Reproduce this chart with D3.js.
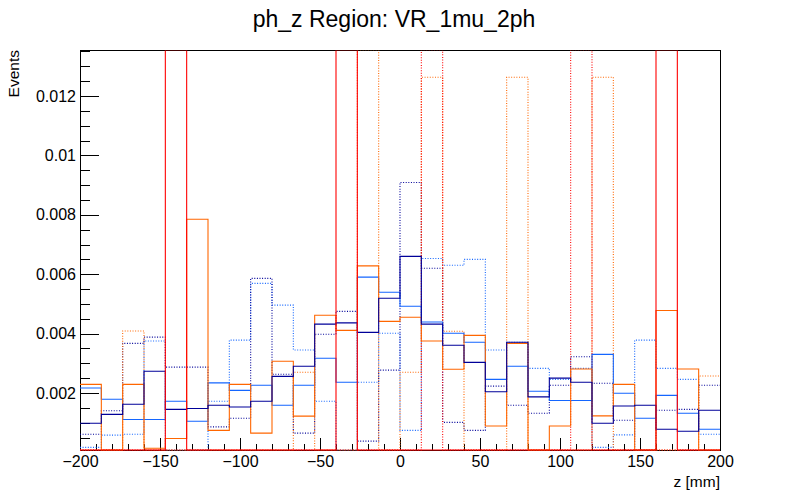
<!DOCTYPE html>
<html lang="en">
<head>
<meta charset="utf-8">
<title>ph_z Region: VR_1mu_2ph</title>
<script src="https://cdn.jsdelivr.net/npm/d3@7"></script>
<style>
  body { margin: 0; background: white; }
  svg { font-family: "Liberation Sans", Arial, Helvetica, sans-serif; }
  .axis path { display: none; }
  .axis line { stroke: #000; shape-rendering: crispEdges; }
  .axis text { font-size: 16px; fill: #000; }
  .hist { fill: none; stroke-width: 1.1; }
</style>
</head>
<body>
<div id="chart"></div>
<script>
// histogram binning: 30 bins from -200 to 200 mm
const xLo = -200, xHi = 200, nBins = 30;

// bin contents (units of 1e-3 events); 20 = off the top of the frame
const navySolid   = [0.98,1.28,1.62,2.73,1.45,1.48,1.59,1.53,1.72,2.56,2.90,4.32,4.36,4.04,5.19,6.60,4.32,3.61,3.03,2.04,3.71,1.87,2.50,2.36,0.98,1.56,1.59,0.78,0.71,1.42];
const blueSolid   = [2.17,1.79,1.11,1.11,1.72,1.05,2.34,2.09,2.26,1.59,2.26,3.17,2.36,5.90,5.39,4.92,4.39,4.01,3.71,2.46,2.90,2.06,1.75,1.75,3.30,1.99,1.15,1.92,1.32,0.78];
const orangeSolid = [2.29,0,2.29,0.14,0.47,7.85,0.74,2.29,0.65,3.07,1.22,4.62,4.11,6.28,4.41,4.55,3.75,2.80,3.94,0.89,3.67,0,0.89,2.81,1.23,2.29,0,4.78,2.81,0];
const redSolid    = [0,0,0,0,20,0,0,0,0,0,0,0,20,0,0,0,0,0,0,0,0,0,0,0,0,0,0,20,0,0];
const navyDotted  = [0.61,1.40,3.67,3.88,2.87,2.87,0.86,1.15,5.86,2.63,0.65,3.98,4.75,0.38,2.77,9.09,6.20,1.01,0.74,2.23,1.59,1.32,2.26,3.22,2.33,1.08,0,1.42,1.45,2.26];
const blueDotted  = [0.17,0.58,0.61,3.75,0,0,1.72,3.78,5.69,4.96,3.45,1.72,0,2.36,4.01,0.74,6.53,6.30,6.50,3.45,3.71,2.83,2.46,2.83,0.17,0.59,3.78,2.83,2.46,0.61];
const orangeDotted= [0,0,4.09,0,0,0,0,0,0,0,2.70,0,0,20,0,2.70,12.63,4.08,0,0,12.63,0,0,0,12.63,0,0,0,0,2.57];
const redDotted   = [0,0,0,0,0,0,0,0,0,0,0,0,0,0,0,0,20,0,0,0,0,0,0,20,0,0,0,0,0,0];

const yLabels = [0.002, 0.004, 0.006, 0.008, 0.01, 0.012];

// draw order: last one ends up on top
const series = [
  { values: blueDotted,   color: "#1466ff", dotted: true },
  { values: navyDotted,   color: "#000099", dotted: true },
  { values: orangeDotted, color: "#ff6600", dotted: true },
  { values: redDotted,    color: "#ff0000", dotted: true },
  { values: blueSolid,    color: "#1466ff", dotted: false },
  { values: orangeSolid,  color: "#ff6600", dotted: false },
  { values: navySolid,    color: "#000099", dotted: false },
  { values: redSolid,     color: "#ff0000", dotted: false }
];

const WIDTH = 800, HEIGHT = 500;
const padL = 80, padR = 720, padT = 50, padB = 450;

const svg = d3.select("#chart").append("svg")
  .attr("width", WIDTH).attr("height", HEIGHT);

const x = d3.scaleLinear().domain([xLo, xHi]).range([padL, padR]);
const y = d3.scaleLinear().domain([0.0000808, 0.013549]).range([padB, padT]).clamp(true);

const binW = (xHi - xLo) / nBins;

// step outline like ROOT "hist"
function stepPath(vals) {
  const p = d3.path();
  vals.forEach(function(v, i) {
    const x0 = x(xLo + i * binW), x1 = x(xLo + (i + 1) * binW);
    const yy = y(v * 1e-3);
    if (i === 0) p.moveTo(x0, yy); else p.lineTo(x0, yy);
    p.lineTo(x1, yy);
  });
  return p.toString();
}

// clip so off-scale bins don't paint over the top of the frame
svg.append("defs").append("clipPath").attr("id", "frameClip")
  .append("rect")
  .attr("x", padL - 2).attr("y", padT + 0.6)
  .attr("width", padR - padL + 4).attr("height", padB - padT + 2);

// frame
svg.append("rect")
  .attr("x", padL).attr("y", padT)
  .attr("width", padR - padL).attr("height", padB - padT)
  .attr("fill", "none").attr("stroke", "#000").attr("shape-rendering", "crispEdges");

// x axis: major ticks every 50, minor every 10, pointing inward
svg.append("g").attr("class", "axis")
  .attr("transform", "translate(0," + padB + ")")
  .call(d3.axisBottom(x).tickValues(d3.range(-200, 201, 10)).tickSize(-6).tickFormat(""));
svg.append("g").attr("class", "axis")
  .attr("transform", "translate(0," + padB + ")")
  .call(d3.axisBottom(x).tickValues(d3.range(-200, 201, 50)).tickSize(-12).tickPadding(6)
    .tickFormat(d3.format("d")));

// y axis
const yMinor = d3.range(1, 28).map(function(i) { return i * 0.0005; });
svg.append("g").attr("class", "axis")
  .attr("transform", "translate(" + padL + ",0)")
  .call(d3.axisLeft(y).tickValues(yMinor).tickSize(-10).tickFormat(""));
svg.append("g").attr("class", "axis")
  .attr("transform", "translate(" + padL + ",0)")
  .call(d3.axisLeft(y).tickValues(yLabels).tickSize(-19).tickPadding(4)
    .tickFormat(function(d) { return String(+d.toFixed(4)); }));

// histograms on top of the frame
const plot = svg.append("g").attr("clip-path", "url(#frameClip)");
plot.selectAll("path")
  .data(series)
  .enter().append("path")
  .attr("class", "hist")
  .attr("d", function(d) { return stepPath(d.values); })
  .attr("stroke", function(d) { return d.color; })
  .attr("stroke-dasharray", function(d) { return d.dotted ? "1,1.6" : null; });

// titles
svg.append("text")
  .attr("x", 394).attr("y", 27)
  .attr("text-anchor", "middle")
  .style("font-size", "23px")
  .text("ph_z Region: VR_1mu_2ph");

svg.append("text")
  .attr("x", padR).attr("y", 487)
  .attr("text-anchor", "end")
  .style("font-size", "15.5px")
  .text("z [mm]");

svg.append("text")
  .attr("transform", "translate(19," + padT + ") rotate(-90)")
  .attr("text-anchor", "end")
  .style("font-size", "15.5px")
  .text("Events");
</script>
</body>
</html>
